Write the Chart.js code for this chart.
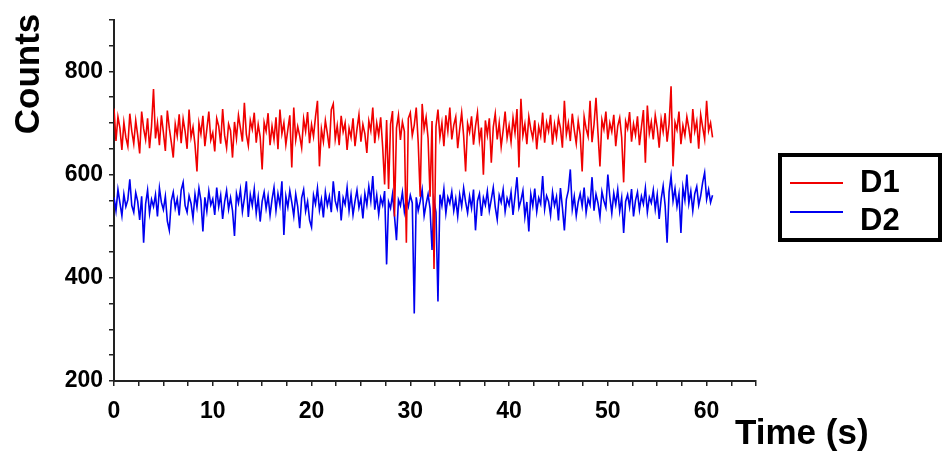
<!DOCTYPE html>
<html>
<head>
<meta charset="utf-8">
<script src="https://cdn.jsdelivr.net/npm/chart.js@4.4.1/dist/chart.umd.min.js"></script>
<style>
  body { margin: 0; background: #fff; }
  #wrap { width: 945px; height: 452px; }
</style>
</head>
<body>
<div id="wrap"><canvas id="traceChart" width="945" height="452"></canvas></div>
<script>
const SAMPLE_STEP = 0.2;

const D1 = [
  728, 665, 712, 690, 648, 701, 672, 655, 718, 684,
  660, 705, 676, 641, 722, 689, 668, 709, 651, 694,
  766, 670, 700, 657, 715, 682, 646, 724, 690, 663,
  633, 698, 675, 717, 661, 708, 684, 650, 726, 672,
  692, 658, 606, 700, 679, 714, 655, 688, 722, 667,
  681, 645, 709, 694, 660, 727, 676, 652, 698, 685,
  633, 702, 670, 715, 690, 664, 739, 678, 656, 705,
  688, 720, 662, 697, 673, 610, 701, 684, 719, 657,
  694, 668, 711, 649, 726, 679, 700, 658, 687, 715,
  614, 730, 667, 693, 675, 652, 708, 684, 721, 661,
  697, 674, 712, 743, 616, 688, 664, 705, 680, 651,
  726, 737, 669, 695, 657, 714, 683, 700, 648, 690,
  672, 709, 655, 688, 716, 664, 697, 679, 642, 704,
  685, 730, 661, 700, 676, 711, 654, 581, 706, 572,
  698, 723, 519, 690, 715, 667, 702, 684, 468, 709,
  720, 676, 696, 730, 662, 557, 737, 688, 711, 670,
  557, 704, 417, 693, 726, 672, 700, 655, 715, 684,
  730, 668, 696, 712, 651, 688, 720, 675, 606, 699,
  682, 713, 658, 694, 720, 666, 691, 600, 705, 677,
  709, 623, 692, 718, 668, 700, 654, 686, 722, 671,
  695, 663, 710, 681, 727, 614, 747, 676, 698, 659,
  712, 688, 670, 705, 649, 693, 675, 720, 662, 701,
  684, 716, 658, 697, 673, 709, 690, 652, 743, 678,
  700, 665, 718, 686, 660, 704, 677, 606, 712, 689,
  674, 743, 663, 697, 749, 681, 616, 706, 688, 722,
  668, 700, 683, 716, 655, 694, 710, 672, 585, 703,
  689, 721, 664, 698, 677, 713, 657, 692, 725, 623,
  734, 680, 702, 668, 715, 690, 652, 707, 683, 719,
  664, 698, 771, 616, 701, 687, 722, 659, 695, 676,
  712, 690, 661, 727, 684, 703, 650, 716, 692, 669,
  743, 685, 700, 672
];

const D2 = [
  556, 530, 571, 545, 520, 562, 538, 551, 591, 540,
  527, 565, 548, 512, 558, 468, 543, 570, 525, 552,
  538, 561, 519, 574, 546, 532, 558, 510, 492, 549,
  566, 535, 553, 521, 570, 585, 540, 527, 559, 544,
  515, 562, 537, 574, 550, 490, 556, 529, 568, 541,
  553, 522, 575, 538, 560, 514, 547, 569, 533, 555,
  530, 481, 563, 545, 571, 528, 554, 587, 518, 561,
  540, 572, 525, 556, 509, 548, 566, 534, 559, 521,
  552, 575, 530, 563, 541, 587, 483, 558, 537, 569,
  546, 520, 562, 538, 496, 555, 571, 529, 548, 512,
  498, 560, 543, 574, 531, 552, 517, 566, 540, 558,
  527, 587, 549, 534, 568, 511, 555, 542, 575, 530,
  561, 522, 548, 570, 536, 554, 515, 563, 541, 577,
  549, 597, 532, 560, 523, 555, 541, 568, 426, 547,
  535, 562, 519, 473, 551, 540, 566, 528, 553, 538,
  560, 545, 331, 556, 530, 548, 571, 520, 543, 562,
  534, 454, 550, 527, 354, 561, 540, 572, 525, 556,
  544, 567, 530, 553, 519, 561, 538, 574, 547, 526,
  558, 535, 571, 492, 549, 563, 520, 555, 541, 568,
  530, 552, 575, 537, 513, 560, 546, 571, 528, 554,
  541, 566, 522, 558, 595, 536, 550, 569, 518, 547,
  490, 562, 539, 573, 528, 555, 543, 597, 533, 559,
  548, 521, 566, 540, 557, 511, 574, 536, 492, 552,
  569, 610, 533, 558, 520, 547, 563, 539, 575, 526,
  553, 541, 595, 530, 562, 545, 518, 567, 549, 536,
  600, 557, 525, 564, 542, 571, 529, 555, 487, 548,
  561, 537, 572, 519, 550, 566, 532, 558, 543, 574,
  527, 556, 545, 570, 533, 561, 514, 553, 578, 540,
  468, 566, 597, 549, 573, 538, 562, 487, 575, 551,
  600, 544, 568, 530, 563, 577, 541, 559, 585, 604,
  552, 571, 546, 560
];

const SERIES_NAMES = ['D1', 'D2'];
const X_TICK_LABELS = [0, 10, 20, 30, 40, 50, 60];
const Y_TICK_LABELS = [200, 400, 600, 800];

const TIME = D1.map((_, i) => +(i * SAMPLE_STEP).toFixed(1));

const FONT = "'Liberation Sans', Arial, sans-serif";
const AXIS_COL = '#222';

function toPoints(arr) {
  return arr.map((v, i) => ({ x: TIME[i], y: v }));
}

// titles + boxed legend drawn by hand, the layout is not the chart.js default
const decorations = {
  id: 'decorations',
  afterDraw(chart) {
    const ctx = chart.ctx;
    ctx.save();
    ctx.fillStyle = '#000';
    ctx.font = 'bold 35px ' + FONT;

    // y title
    ctx.save();
    ctx.translate(39, 74);
    ctx.rotate(-Math.PI / 2);
    ctx.textAlign = 'center';
    ctx.textBaseline = 'alphabetic';
    ctx.fillText('Counts', 0, 0);
    ctx.restore();

    // x title
    ctx.textAlign = 'left';
    ctx.textBaseline = 'alphabetic';
    ctx.fillText('Time (s)', 735, 444);

    // legend
    ctx.lineWidth = 4;
    ctx.strokeStyle = '#000';
    ctx.strokeRect(780, 155, 160, 85);
    const rows = [183, 212];
    ctx.font = 'bold 31px ' + FONT;
    ctx.textBaseline = 'middle';
    chart.data.datasets.forEach((ds, i) => {
      ctx.strokeStyle = ds.borderColor;
      ctx.lineWidth = 2;
      ctx.beginPath();
      ctx.moveTo(790, rows[i]);
      ctx.lineTo(843, rows[i]);
      ctx.stroke();
      ctx.fillStyle = '#000';
      ctx.fillText(ds.label, 860, rows[i] + (i === 0 ? 0 : 9));
    });
    ctx.restore();
  }
};

const chart = new Chart(document.getElementById('traceChart'), {
  type: 'line',
  data: {
    datasets: [
      {
        label: SERIES_NAMES[0],
        data: toPoints(D1),
        borderColor: '#f00000',
        borderWidth: 1.6,
        pointRadius: 0,
        tension: 0,
      },
      {
        label: SERIES_NAMES[1],
        data: toPoints(D2),
        borderColor: '#0000f0',
        borderWidth: 1.6,
        pointRadius: 0,
        tension: 0,
      },
    ],
  },
  options: {
    responsive: false,
    animation: false,
    devicePixelRatio: 1,
    layout: { padding: { left: 0, top: 12, right: 189, bottom: 0 } },
    plugins: {
      legend: { display: false },
      tooltip: { enabled: false },
    },
    scales: {
      x: {
        type: 'linear',
        min: 0,
        max: 65,
        afterFit(scale) { scale.height = 71; },
        border: { color: AXIS_COL, width: 2 },
        grid: { drawOnChartArea: false, drawTicks: true, tickLength: 5, color: AXIS_COL, lineWidth: 1.5 },
        ticks: {
          stepSize: 2.5,
          autoSkip: false,
          maxRotation: 0,
          padding: 12,
          color: '#000',
          font: { family: FONT, size: 23, weight: 'bold' },
          callback: (v) => X_TICK_LABELS.find(t => Math.abs(t - v) < 1e-6) !== undefined ? String(v) : '',
        },
      },
      y: {
        min: 200,
        max: 900,
        afterFit(scale) { scale.width = 114; },
        border: { color: AXIS_COL, width: 2 },
        grid: { drawOnChartArea: false, drawTicks: true, tickLength: 5, color: AXIS_COL, lineWidth: 1.5 },
        ticks: {
          stepSize: 50,
          autoSkip: false,
          padding: 6,
          color: '#000',
          font: { family: FONT, size: 23, weight: 'bold' },
          callback: (v) => Y_TICK_LABELS.includes(v) ? String(v) : '',
        },
      },
    },
  },
  plugins: [decorations],
});
</script>
</body>
</html>
